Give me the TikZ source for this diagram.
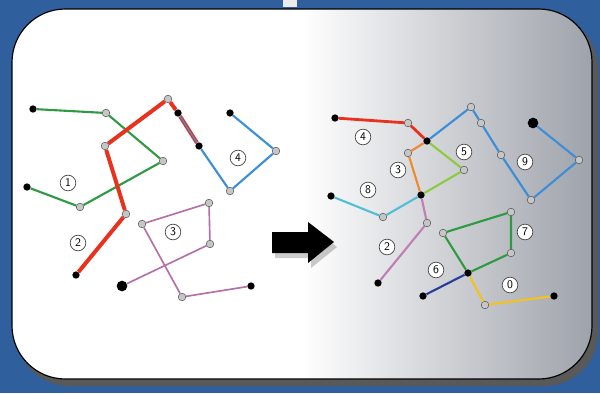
\documentclass[tikz,border=0pt]{standalone}
\usetikzlibrary{positioning}
\definecolor{bgblue}{HTML}{2F5F9C}
\definecolor{boxgray}{HTML}{9EA2AA}
\definecolor{rgreen}{HTML}{2E9A42}
\definecolor{rred}{HTML}{E8321E}
\definecolor{rblue}{HTML}{3C8ED8}
\definecolor{rpurple}{HTML}{B46EA8}
\definecolor{rorange}{HTML}{EE8A2E}
\definecolor{rlime}{HTML}{8CCB3C}
\definecolor{rcyan}{HTML}{52BED6}
\definecolor{rpink}{HTML}{C07EB6}
\definecolor{rnavy}{HTML}{2A3C9A}
\definecolor{ryellow}{HTML}{F2C21E}
\pgfdeclarehorizontalshading{boxshade}{100bp}{color(0bp)=(white); color(50bp)=(white); color(75bp)=(boxgray); color(100bp)=(boxgray)}
\begin{document}
\begin{tikzpicture}[
    x=0.03cm, y=-0.03cm,
    gnode/.style={circle, draw=gray!60!black, fill=gray!45, inner sep=0pt, minimum size=0.23cm, line width=0.4pt},
    bnode/.style={circle, fill=black, inner sep=0pt, minimum size=0.22cm},
    bigdot/.style={circle, fill=black, inner sep=0pt, minimum size=0.32cm},
    tag/.style={circle, draw=gray!55!black, fill=white, inner sep=0pt, minimum size=0.47cm, font=\sffamily, line width=0.6pt},
    route/.style={line width=1.8pt, line join=round}
]
% background and frame
\fill[bgblue] (0,0) rectangle (600,393);
\fill[white!85!gray] (283,0) rectangle (297,7);
\fill[gray!70!black, rounded corners=1.6cm] (16,15) rectangle (598,386);
\shade[shading=boxshade, draw=black, line width=1pt, rounded corners=1.6cm] (12,9) rectangle (592,379);

% left: before
\node[bnode] (g0) at (33,109) {};
\node[gnode] (g1) at (106,113) {};
\node[gnode] (g2) at (163,161) {};
\node[gnode] (g3) at (80,207) {};
\node[bnode] (g4) at (27,187) {};
\node[bnode] (r0) at (76,275) {};
\node[gnode] (r1) at (126,214) {};
\node[gnode] (r2) at (105,146) {};
\node[gnode] (r3) at (168,99) {};
\node[bnode] (r4) at (178,113) {};
\node[bnode] (r5) at (199,146) {};
\node[bnode] (b0) at (230,113) {};
\node[gnode] (b1) at (276,151) {};
\node[gnode] (b2) at (230,191) {};
\node[bigdot] (p0) at (122,286) {};
\node[gnode] (p1) at (210,244) {};
\node[gnode] (p2) at (209,203) {};
\node[gnode] (p3) at (142,224) {};
\node[gnode] (p4) at (182,297) {};
\node[bnode] (p5) at (251,286) {};

\draw[route, rgreen] (g0) -- (g1) -- (g2) -- (g3) -- (g4);
\draw[route, rred, line width=3.4pt] (r0) -- (r1) -- (r2) -- (r3) -- (r4) -- (r5);
\draw[route, rblue] (b0) -- (b1) -- (b2) -- (r5);
\draw[route, rblue, line width=1.2pt] (r5) -- (r4);
\draw[route, rpurple, line width=1.4pt] (p0) -- (p1) -- (p2) -- (p3) -- (p4) -- (p5);

\node[tag] (t1) at (68,183) {1};
\node[tag] (t2) at (78,243) {2};
\node[tag] (t3) at (173,232) {3};
\node[tag] (t4) at (238,158) {4};

% big arrow
\fill[black, opacity=0.2] (275,237) -- (311,237) -- (311,227) -- (337,247) -- (311,268) -- (311,258) -- (275,258) -- cycle;
\fill[black] (272,232) -- (308,232) -- (308,222) -- (334,242) -- (308,263) -- (308,253) -- (272,253) -- cycle;

% right: after
\node[bnode] (s0) at (335,118) {};
\node[gnode] (s1) at (408,123) {};
\node[bnode] (ja) at (427,141) {};
\node[gnode] (u1) at (471,107) {};
\node[gnode] (u2) at (481,123) {};
\node[gnode] (u3) at (501,155) {};
\node[gnode] (u4) at (531,200) {};
\node[gnode] (u5) at (579,160) {};
\node[bigdot] (u6) at (533,123) {};
\node[gnode] (o1) at (408,153) {};
\node[bnode] (jb) at (421,195) {};
\node[gnode] (l1) at (464,170) {};
\node[bnode] (c0) at (331,196) {};
\node[gnode] (c1) at (383,217) {};
\node[gnode] (k1) at (427,223) {};
\node[bnode] (k2) at (378,283) {};
\node[bnode] (jc) at (468,273) {};
\node[gnode] (v1) at (443,233) {};
\node[gnode] (v2) at (511,212) {};
\node[gnode] (v3) at (511,253) {};
\node[bnode] (n0) at (423,296) {};
\node[gnode] (y1) at (485,305) {};
\node[bnode] (y2) at (554,296) {};

\draw[route, rred, line width=2.4pt] (s0) -- (s1) -- (ja);
\draw[route, rblue] (ja) -- (u1) -- (u2) -- (u3) -- (u4) -- (u5) -- (u6);
\draw[route, rorange] (ja) -- (o1) -- (jb);
\draw[route, rlime] (ja) -- (l1) -- (jb);
\draw[route, rcyan] (c0) -- (c1) -- (jb);
\draw[route, rpink] (jb) -- (k1) -- (k2);
\draw[route, rgreen] (jc) -- (v1) -- (v2) -- (v3) -- (jc);
\draw[route, rnavy] (n0) -- (jc);
\draw[route, ryellow] (jc) -- (y1) -- (y2);

\node[tag] (t5) at (363,137) {4};
\node[tag] (t6) at (398,170) {3};
\node[tag] (t7) at (464,152) {5};
\node[tag] (t8) at (368,190) {8};
\node[tag] (t9) at (525,162) {9};
\node[tag] (t10) at (387,247) {2};
\node[tag] (t11) at (525,232) {7};
\node[tag] (t12) at (436,270) {6};
\node[tag] (t13) at (510,285) {0};
\end{tikzpicture}
\end{document}
